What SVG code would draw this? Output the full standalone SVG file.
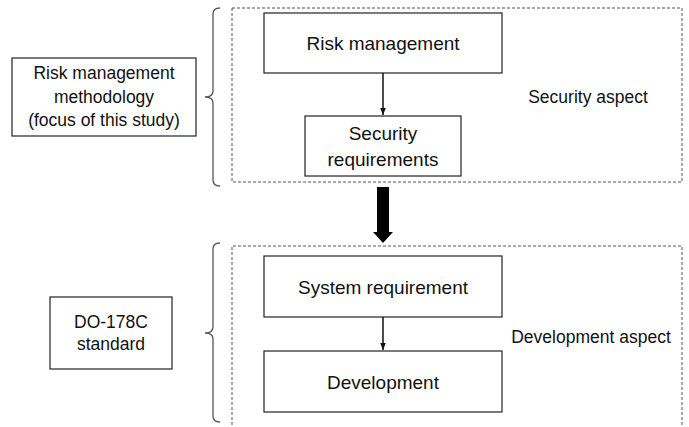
<svg xmlns="http://www.w3.org/2000/svg" width="689" height="427" viewBox="0 0 689 427">
<style>
.box{fill:#fff;stroke:#222;stroke-width:1.2}
.dash{fill:none;stroke:#555;stroke-width:1;stroke-dasharray:3 2}
.brace{fill:none;stroke:#555;stroke-width:1.3}
text{font-family:"Liberation Sans",Arial,sans-serif;fill:#111;text-anchor:middle}
.big{font-size:19px}
.sm{font-size:17.5px}
.conn{stroke:#111;stroke-width:1.5;fill:none}
</style>
<defs>
<marker id="ah" markerWidth="8" markerHeight="8" refX="7" refY="4" orient="auto" markerUnits="userSpaceOnUse">
<path d="M0,1.2 L7,4 L0,6.8 Z" fill="#111"/>
</marker>
</defs>
<g id="security-group">
<rect class="dash" x="232" y="8" width="450" height="174"/>
<path class="brace" d="M220,8 Q213,8 213,14 L213,91 Q213,97 205,97 Q213,97 213,103 L213,180 Q213,186 220,186"/>
<text class="sm" x="588" y="103">Security aspect</text>
</g>
<g id="development-group">
<path class="dash" d="M232,430 L232,246 L682,246 L682,430"/>
<path class="brace" d="M220,243 Q213,243 213,249 L213,327 Q213,333 205,333 Q213,333 213,339 L213,416 Q213,422 220,422"/>
<text class="sm" x="591" y="343">Development aspect</text>
</g>
<g id="risk-methodology">
<rect class="box" x="12" y="58" width="184" height="78"/>
<text class="sm" x="104" y="79">Risk management</text>
<text class="sm" x="104" y="103">methodology</text>
<text class="sm" x="104" y="126">(focus of this study)</text>
</g>
<g id="risk-management">
<rect class="box" x="264" y="13" width="238" height="60"/>
<text class="big" x="383" y="50">Risk management</text>
</g>
<g id="security-requirements">
<rect class="box" x="305" y="116" width="156" height="60"/>
<text class="big" x="383" y="140">Security</text>
<text class="big" x="383" y="166">requirements</text>
</g>
<g id="do178c">
<rect class="box" x="50" y="297" width="122" height="72"/>
<text class="sm" x="111" y="328">DO-178C</text>
<text class="sm" x="111" y="350">standard</text>
</g>
<g id="system-requirement">
<rect class="box" x="264" y="256" width="238" height="61"/>
<text class="big" x="383" y="294">System requirement</text>
</g>
<g id="development">
<rect class="box" x="264" y="351" width="238" height="61"/>
<text class="big" x="383" y="389">Development</text>
</g>
<g id="connectors">
<line class="conn" x1="383" y1="73" x2="383" y2="115" marker-end="url(#ah)"/>
<line class="conn" x1="383" y1="317" x2="383" y2="350" marker-end="url(#ah)"/>
<polygon points="377,187 389,187 389,232 393,232 383,243 373,232 377,232" fill="#000"/>
</g>
</svg>
